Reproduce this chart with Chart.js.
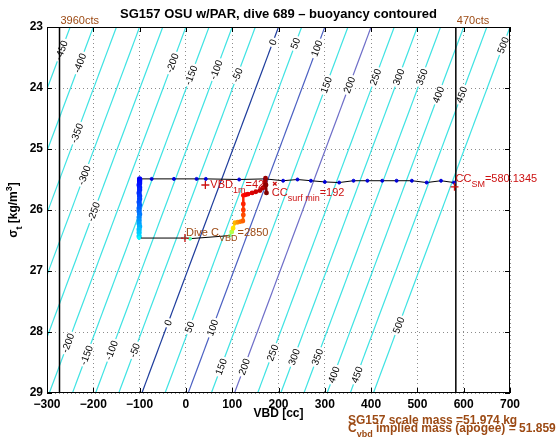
<!DOCTYPE html>
<html>
<head>
<meta charset="utf-8">
<script src="https://cdn.jsdelivr.net/npm/chart.js@4.4.0/dist/chart.umd.min.js"></script>
<style>body{margin:0;background:#fff}</style>
</head>
<body>
<canvas id="myChart" width="560" height="442"></canvas>
<script>
// axis ticks
const xTicks = [-300, -200, -100, 0, 100, 200, 300, 400, 500, 600, 700];
const yTicks = [23, 24, 25, 26, 27, 28, 29];

// buoyancy contours: VBD where each level meets sigma 23 (top) and 29 (bottom)
const contourLevels = [-450, -400, -350, -300, -250, -200, -150, -100, -50, 0, 50, 100, 150, 200, 250, 300, 350, 400, 450, 500];
const contourVbdTop = [-250, -200, -150, -100, -50, 0, 50, 100, 150, 200, 250, 300, 350, 400, 450, 500, 550, 600, 650, 700];
const contourVbdBottom = [-545, -495, -445, -395, -345, -295, -245, -195, -145, -95, -45, 5, 55, 105, 155, 205, 255, 305, 355, 405];

// where the inline contour labels sit (level, sigma)
const labelLevels = [-450, -400, -350, -300, -250, -200, -150, -100, -50, 0, 50, 100, 150, 200, 250, 300, 350, 400, 450, 500,
  -200, -150, -100, -50, 0, 50, 100, 150, 200, 250, 300, 350, 400, 450, 500];
const labelSigma = [23.38, 23.59, 24.74, 25.43, 26.03, 23.59, 23.79, 23.70, 23.79, 23.25, 23.27, 23.35, 23.95, 23.95, 23.82, 23.82, 23.82, 24.11, 24.11, 23.30,
  28.18, 28.38, 28.30, 28.30, 27.85, 27.92, 27.93, 28.57, 28.57, 28.34, 28.41, 28.41, 28.70, 28.70, 27.89];

// dive track
const surfaceVbd = [-99, -74, -26, 23, 43, 115, 171, 210, 241, 270, 300, 331, 362, 392, 424, 455, 488, 520, 551, 579];
const surfaceSigma = [25.49, 25.49, 25.49, 25.49, 25.49, 25.50, 25.49, 25.52, 25.50, 25.52, 25.54, 25.55, 25.52, 25.52, 25.52, 25.52, 25.52, 25.55, 25.52, 25.55];
const descentVbd = [-100, -100, -100, -100, -101, -100, -100, -101, -100, -100, -101, -100, -101, -101, -100, -101, -101, -101, -100, -101, -101, -101];
const descentSigma = [25.49, 25.51, 25.53, 25.56, 25.59, 25.63, 25.67, 25.72, 25.77, 25.82, 25.87, 25.92, 25.97, 26.02, 26.07, 26.12, 26.17, 26.22, 26.27, 26.32, 26.37, 26.43];
const apogeeVbd = [-101, -2, 9, 95, 99];
const apogeeSigma = [26.46, 26.46, 26.47, 26.42, 26.36];
const ascentVbd = [99, 102, 106, 112, 118, 123, 124, 124, 124, 124, 129, 134, 143, 151, 160, 166, 171, 172, 173, 174];
const ascentSigma = [26.36, 26.30, 26.21, 26.20, 26.19, 26.18, 26.08, 26.00, 25.90, 25.76, 25.75, 25.74, 25.72, 25.70, 25.68, 25.64, 25.54, 25.48, 25.59, 25.72];

// pump limits
const limitVbd = [-273, 583];
const limitLabels = ['3960cts', '470cts'];

// annotations
const diveCvbd = 2850, diveCvbdAt = [-2, 26.46];
const vbd1m = 42, vbd1mSigma = 25.59;
const ccSurfMin = 192, ccSurfMinSigma = 25.57;
const ccSM = 580.1345, ccSMSigma = 25.62;
const scaleMass = 51.974, impliedMass = 51.859;

const FONT = '"Liberation Sans", Arial, Helvetica, sans-serif';
const RED = '#cc1111';
const BROWN = '#9c4a14';

function jet(t) {
  const c = v => Math.round(255 * Math.max(0, Math.min(1, v)));
  return `rgb(${c(1.5 - Math.abs(4 * t - 3))},${c(1.5 - Math.abs(4 * t - 2))},${c(1.5 - Math.abs(4 * t - 1))})`;
}
function ramp(n, a, b, p) {
  return Array.from({ length: n }, (_, i) => jet(a + (b - a) * Math.pow(n > 1 ? i / (n - 1) : 0, p || 1)));
}
const pts = (xs, ys) => xs.map((x, i) => ({ x: x, y: ys[i] }));

function contourColor(level) {
  if (level === 0) return '#1d3c9c';
  if (level === 100) return '#4b60c2';
  if (level === 200) return '#6e6ec8';
  return '#3fe3e3';
}

// rich text with sub/superscripts: parts = [[text, 0|1(sub)|-1(sup)], ...]
function measureRich(ctx, parts, size, weight) {
  let w = 0;
  for (const [t, k] of parts) {
    ctx.font = `${weight} ${k ? Math.round(size * 0.78) : size}px ${FONT}`;
    w += ctx.measureText(t).width;
  }
  return w;
}
function drawRich(ctx, x, y, parts, size, weight, color) {
  ctx.save();
  ctx.fillStyle = color;
  ctx.textAlign = 'left';
  ctx.textBaseline = 'alphabetic';
  let cx = x;
  for (const [t, k] of parts) {
    ctx.font = `${weight} ${k ? Math.round(size * 0.78) : size}px ${FONT}`;
    const dy = k === 1 ? size * 0.45 : k === -1 ? -size * 0.45 : 0;
    ctx.fillText(t, cx, y + dy);
    cx += ctx.measureText(t).width;
  }
  ctx.restore();
}

const ascentColors = ramp(ascentVbd.length, 0.55, 1.0, 0.5);
const descentColors = ramp(descentVbd.length, 0.12, 0.34, 1.4);

const datasets = [];
// 0: annotation markers
datasets.push({
  data: pts([diveCvbdAt[0], vbd1m, ccSurfMin, ccSM], [diveCvbdAt[1], vbd1mSigma, ccSurfMinSigma, ccSMSigma]),
  showLine: false,
  pointStyle: ['cross', 'cross', 'crossRot', 'cross'],
  pointRadius: [4, 4, 2.5, 4],
  pointBorderColor: RED,
  pointBorderWidth: 1.3
});
// 1: ascent
datasets.push({
  data: pts(ascentVbd, ascentSigma),
  borderWidth: 2.5,
  borderColor: '#900',
  segment: { borderColor: c => ascentColors[c.p0DataIndex] },
  pointRadius: 1.2,
  pointBackgroundColor: ascentColors,
  pointBorderColor: ascentColors
});
// 2: apogee
datasets.push({
  data: pts(apogeeVbd, apogeeSigma),
  borderWidth: 1,
  borderColor: '#000',
  pointRadius: 1.5,
  pointBackgroundColor: ramp(apogeeVbd.length, 0.37, 0.53),
  pointBorderColor: ramp(apogeeVbd.length, 0.37, 0.53)
});
// 3: descent
datasets.push({
  data: pts(descentVbd, descentSigma),
  borderWidth: 2.5,
  borderColor: '#0000ff',
  segment: { borderColor: c => descentColors[c.p0DataIndex] },
  pointRadius: 1.4,
  pointBackgroundColor: descentColors,
  pointBorderColor: descentColors
});
// 4: surface
datasets.push({
  data: pts(surfaceVbd, surfaceSigma),
  borderWidth: 1,
  borderColor: '#000',
  pointRadius: 1.5,
  pointBackgroundColor: jet(0.09),
  pointBorderColor: jet(0.09)
});
// limit lines
limitVbd.forEach(v => datasets.push({
  data: [{ x: v, y: 23 }, { x: v, y: 29 }],
  borderWidth: 1.5,
  borderColor: '#000',
  pointRadius: 0
}));
const firstContour = datasets.length;
contourLevels.forEach((lv, i) => datasets.push({
  data: [{ x: contourVbdTop[i], y: 23 }, { x: contourVbdBottom[i], y: 29 }],
  borderWidth: 1.2,
  borderColor: contourColor(lv),
  pointRadius: 0
}));

const deco = {
  id: 'deco',
  afterDatasetDraw(chart, args) {
    if (args.index !== firstContour) return;
    const ctx = chart.ctx, xs = chart.scales.x, ys = chart.scales.y;
    const a = chart.chartArea;
    ctx.save();
    ctx.beginPath();
    ctx.rect(a.left, a.top, a.right - a.left, a.bottom - a.top);
    ctx.clip();
    ctx.font = `10px ${FONT}`;
    labelLevels.forEach((lv, k) => {
      const i = contourLevels.indexOf(lv);
      const s = labelSigma[k];
      const v = contourVbdTop[i] + (contourVbdBottom[i] - contourVbdTop[i]) * (s - 23) / 6;
      const px = xs.getPixelForValue(v), py = ys.getPixelForValue(s);
      const xt = xs.getPixelForValue(contourVbdTop[i]), yt = ys.getPixelForValue(23);
      const xb = xs.getPixelForValue(contourVbdBottom[i]), yb = ys.getPixelForValue(29);
      const ang = Math.atan2(yt - yb, xt - xb);
      const txt = String(lv);
      const w = ctx.measureText(txt).width;
      ctx.save();
      ctx.translate(px, py);
      ctx.rotate(ang);
      ctx.fillStyle = '#fff';
      ctx.fillRect(-w / 2 - 2, -4, w + 4, 8);
      ctx.fillStyle = '#000';
      ctx.textAlign = 'center';
      ctx.textBaseline = 'middle';
      ctx.fillText(txt, 0, 0.5);
      ctx.restore();
    });
    ctx.restore();
  },
  afterDraw(chart) {
    const ctx = chart.ctx, xs = chart.scales.x, ys = chart.scales.y;
    const a = chart.chartArea;
    ctx.save();
    // box and inward ticks
    ctx.strokeStyle = '#000';
    ctx.lineWidth = 1;
    ctx.strokeRect(a.left + 0.5, a.top + 0.5, a.right - a.left - 1, a.bottom - a.top - 1);
    ctx.beginPath();
    xTicks.forEach(v => {
      const x = Math.round(xs.getPixelForValue(v)) + 0.5;
      ctx.moveTo(x, a.bottom); ctx.lineTo(x, a.bottom - 5);
      ctx.moveTo(x, a.top); ctx.lineTo(x, a.top + 5);
    });
    yTicks.forEach(v => {
      const y = Math.round(ys.getPixelForValue(v)) + 0.5;
      ctx.moveTo(a.left, y); ctx.lineTo(a.left + 5, y);
      ctx.moveTo(a.right, y); ctx.lineTo(a.right - 5, y);
    });
    ctx.stroke();

    // title
    ctx.fillStyle = '#000';
    ctx.font = `bold 13px ${FONT}`;
    ctx.textAlign = 'center';
    ctx.textBaseline = 'alphabetic';
    ctx.fillText('SG157 OSU w/PAR, dive 689 \u2013 buoyancy contoured', (a.left + a.right) / 2, 18);
    // x label
    ctx.font = `bold 12px ${FONT}`;
    ctx.fillText('VBD [cc]', (a.left + a.right) / 2, 417);
    ctx.restore();

    // y label
    const yParts = [['\u03c3', 0], ['t', 1], [' [kg/m', 0], ['3', -1], [']', 0]];
    ctx.save();
    ctx.translate(17, (a.top + a.bottom) / 2);
    ctx.rotate(-Math.PI / 2);
    const yw = measureRich(ctx, yParts, 12, 'bold');
    drawRich(ctx, -yw / 2, 0, yParts, 12, 'bold', '#000');
    ctx.restore();

    // limit labels
    limitVbd.forEach((v, i) => {
      drawRich(ctx, xs.getPixelForValue(v) + 1, 24, [[limitLabels[i], 0]], 11, 'normal', BROWN);
    });

    // annotation texts
    const p = (v, s) => [xs.getPixelForValue(v), ys.getPixelForValue(s)];
    let q = p(vbd1m, vbd1mSigma);
    drawRich(ctx, q[0] + 5, q[1] + 3, [['VBD', 0], ['1m', 1], ['=' + vbd1m, 0]], 11, 'normal', RED);
    q = p(ccSurfMin, ccSurfMinSigma);
    drawRich(ctx, q[0] - 3, q[1] + 12, [['CC', 0], ['surf min', 1], ['=' + ccSurfMin, 0]], 11, 'normal', RED);
    q = p(ccSM, ccSMSigma);
    drawRich(ctx, q[0] + 1, q[1] - 5, [['CC', 0], ['SM', 1], ['=' + ccSM, 0]], 11, 'normal', RED);
    q = p(diveCvbdAt[0], diveCvbdAt[1]);
    drawRich(ctx, q[0] + 1, q[1] - 2, [['Dive C', 0], ['VBD', 1], ['=' + diveCvbd, 0]], 11, 'normal', BROWN);

    // mass notes
    drawRich(ctx, 348, 424, [['SG157 scale mass =' + scaleMass + ' kg', 0]], 12, 'bold', BROWN);
    drawRich(ctx, 348, 432, [['C', 0], ['vbd', 1], [' implied mass (apogee) = ' + impliedMass, 0]], 12, 'bold', BROWN);
  }
};

const tickFmt = v => (v < 0 ? '\u2212' + Math.abs(v) : String(v));

const ctx = document.getElementById('myChart').getContext('2d');
const chart = new Chart(ctx, {
  type: 'line',
  data: { datasets: datasets },
  options: {
    responsive: false,
    animation: false,
    events: [],
    devicePixelRatio: 1,
    layout: { padding: { left: 0, right: 50, top: 27, bottom: 0 } },
    elements: { line: { tension: 0 } },
    plugins: { legend: { display: false }, tooltip: { enabled: false }, title: { display: false } },
    scales: {
      x: {
        type: 'linear',
        min: -300, max: 700,
        afterBuildTicks: s => { s.ticks = xTicks.map(v => ({ value: v })); },
        afterFit: s => { s.height = 49; },
        grid: { color: 'rgba(0,0,0,0.45)', lineWidth: 1, drawTicks: false },
        border: { display: false, dash: [1, 3] },
        ticks: { padding: 4, color: '#000', font: { family: FONT, size: 12, weight: 'bold' }, callback: tickFmt, maxRotation: 0, autoSkip: false }
      },
      y: {
        type: 'linear',
        reverse: true,
        min: 23, max: 29,
        afterBuildTicks: s => { s.ticks = yTicks.map(v => ({ value: v })); },
        afterFit: s => { s.width = 47; },
        grid: { color: 'rgba(0,0,0,0.45)', lineWidth: 1, drawTicks: false },
        border: { display: false, dash: [1, 3] },
        ticks: { padding: 4, color: '#000', font: { family: FONT, size: 12, weight: 'bold' }, callback: tickFmt, autoSkip: false }
      }
    }
  },
  plugins: [deco]
});
</script>
</body>
</html>
